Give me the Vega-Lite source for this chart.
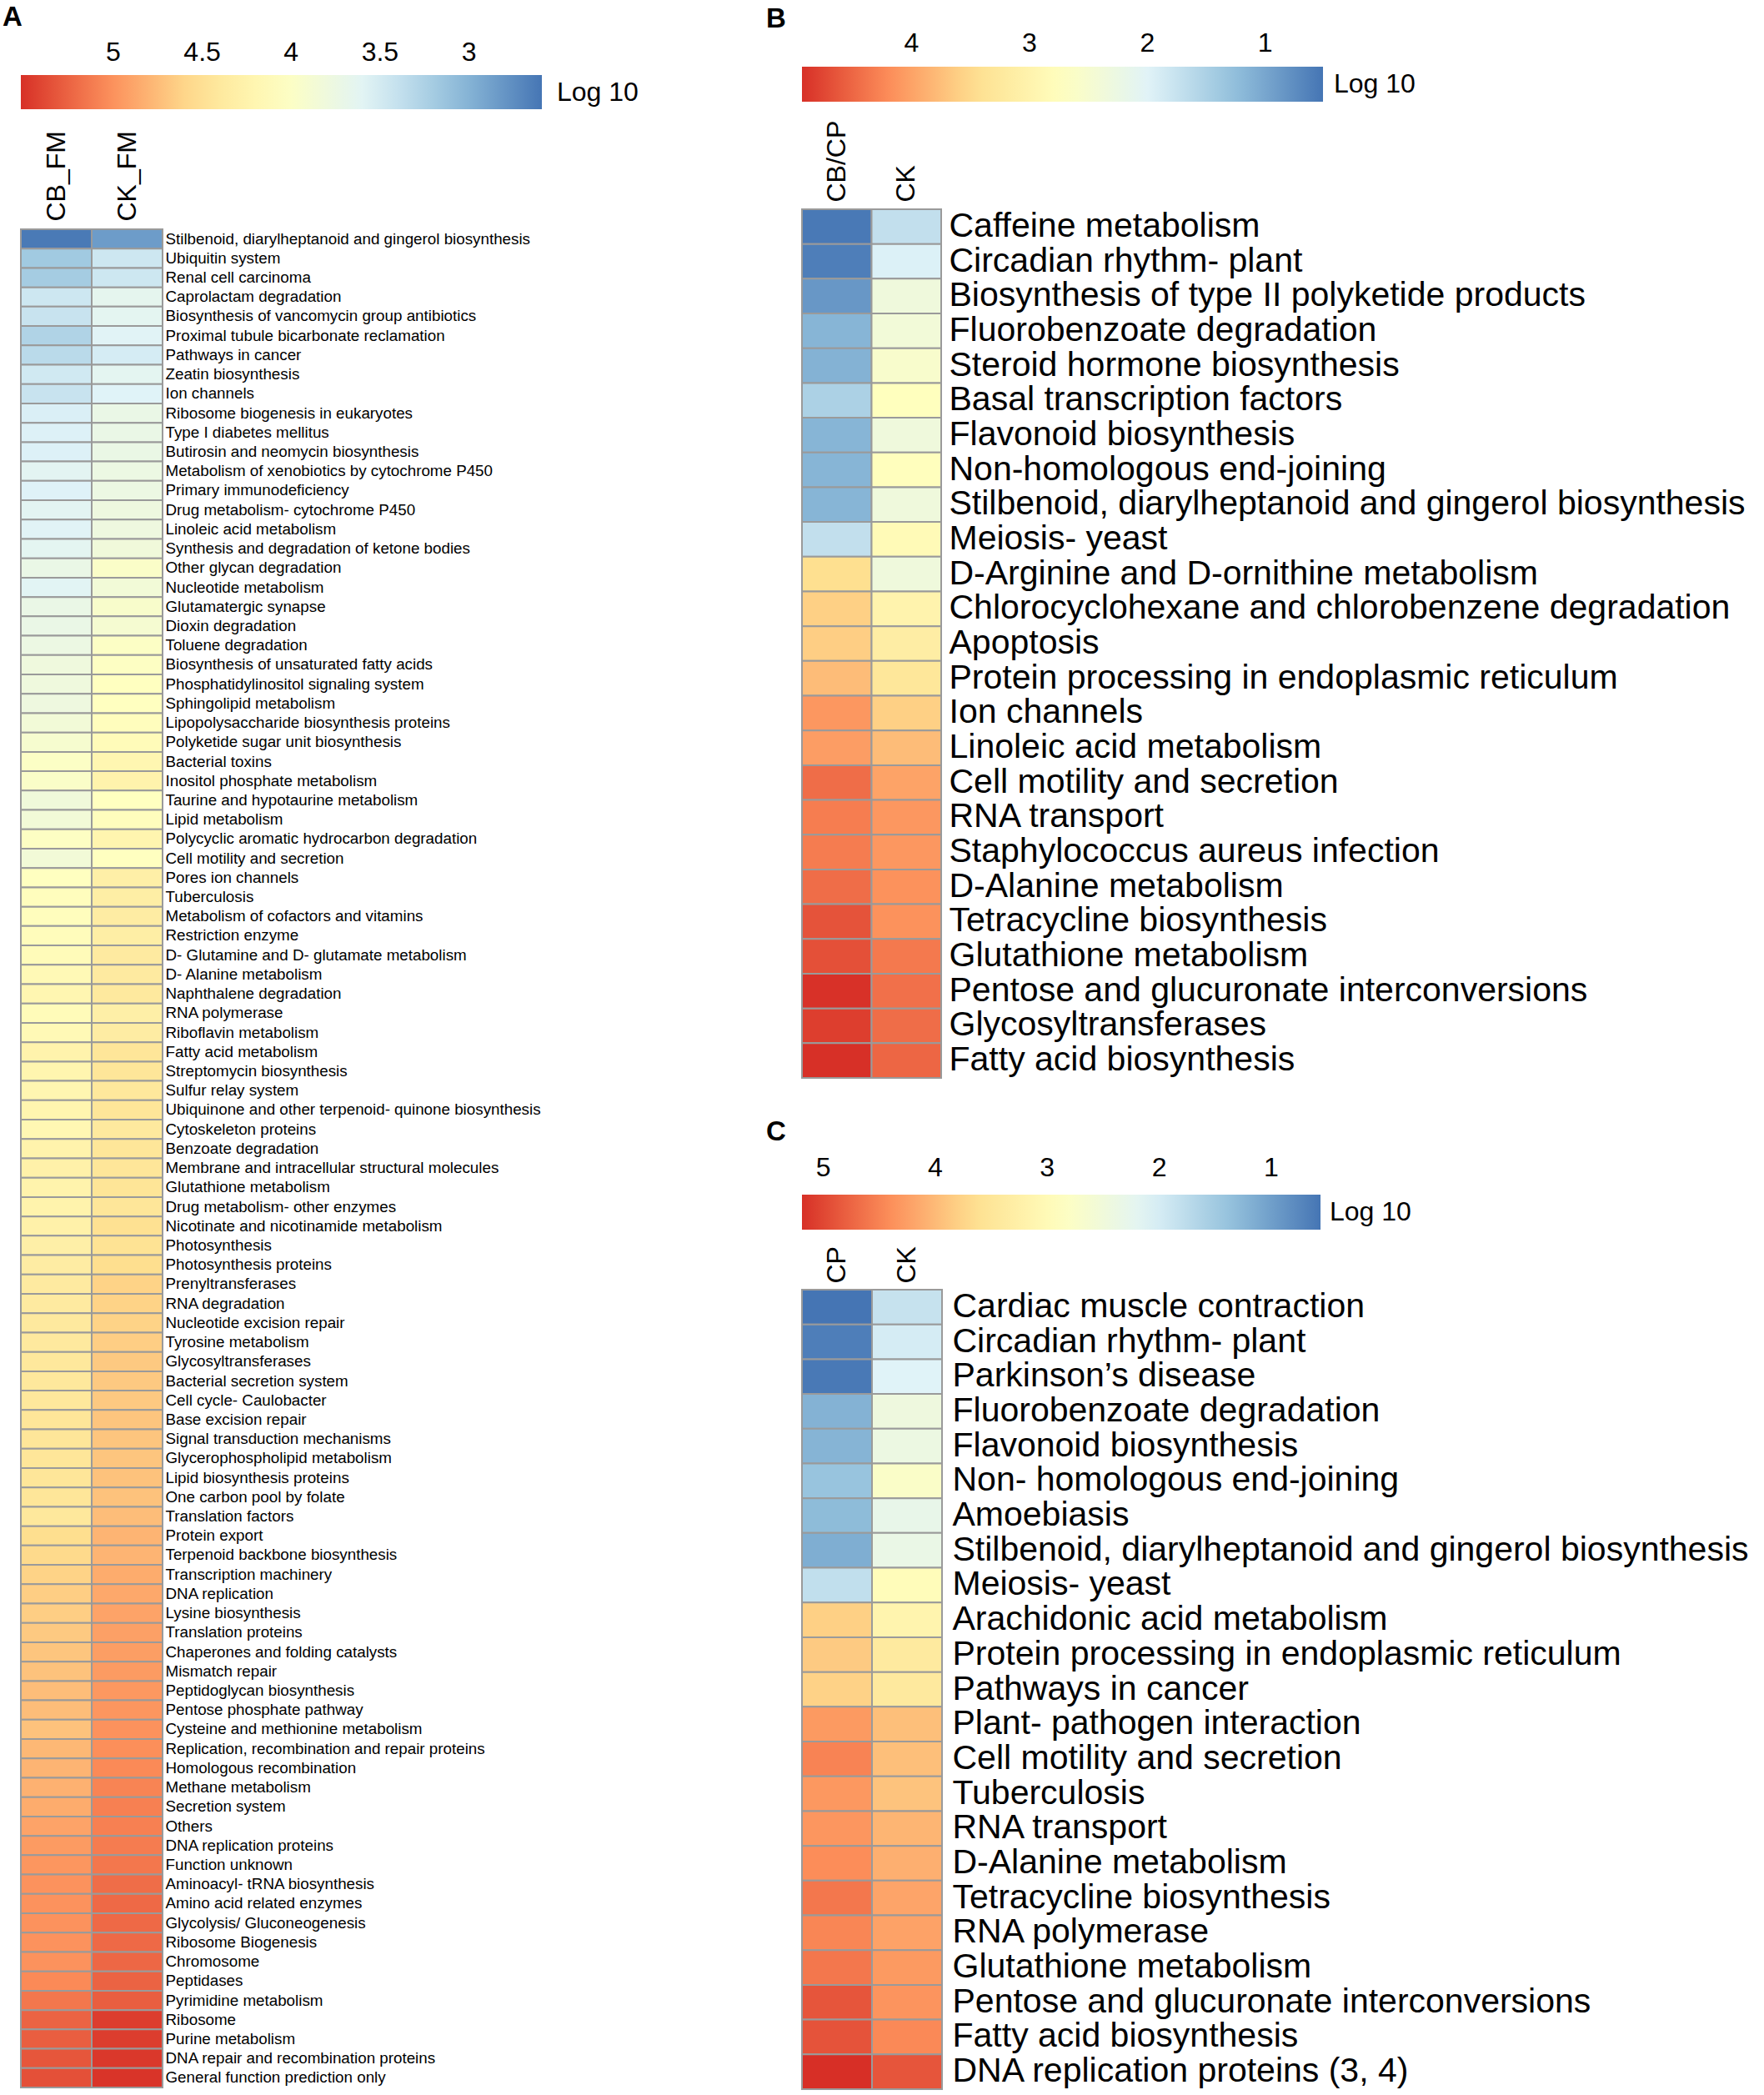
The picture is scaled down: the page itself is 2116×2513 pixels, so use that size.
{
  "$schema": "https://vega.github.io/schema/vega-lite/v6.json",
  "background": "white",
  "padding": {"left": 3, "top": 5, "right": 0, "bottom": 0},
  "config": {
    "font": "Liberation Sans",
    "view": {"stroke": null},
    "axis": {"labelColor": "#000000", "ticks": false, "domain": false, "grid": false, "title": null, "labelFont": "Liberation Sans"},
    "legend": {"labelColor": "#000000", "titleColor": "#000000", "labelFont": "Liberation Sans", "titleFont": "Liberation Sans"},
    "title": {"font": "Liberation Sans", "color": "#000000"}
  },
  "datasets": {
    "a": [
      {"pathway": "Stilbenoid, diarylheptanoid and gingerol biosynthesis", "sample": "CB_FM", "log10": 2.62}, {"pathway": "Stilbenoid, diarylheptanoid and gingerol biosynthesis", "sample": "CK_FM", "log10": 2.85},
      {"pathway": "Ubiquitin system", "sample": "CB_FM", "log10": 3.18}, {"pathway": "Ubiquitin system", "sample": "CK_FM", "log10": 3.45},
      {"pathway": "Renal cell carcinoma", "sample": "CB_FM", "log10": 3.2}, {"pathway": "Renal cell carcinoma", "sample": "CK_FM", "log10": 3.45},
      {"pathway": "Caprolactam degradation", "sample": "CB_FM", "log10": 3.45}, {"pathway": "Caprolactam degradation", "sample": "CK_FM", "log10": 3.65},
      {"pathway": "Biosynthesis of vancomycin group antibiotics", "sample": "CB_FM", "log10": 3.42}, {"pathway": "Biosynthesis of vancomycin group antibiotics", "sample": "CK_FM", "log10": 3.63},
      {"pathway": "Proximal tubule bicarbonate reclamation", "sample": "CB_FM", "log10": 3.27}, {"pathway": "Proximal tubule bicarbonate reclamation", "sample": "CK_FM", "log10": 3.58},
      {"pathway": "Pathways in cancer", "sample": "CB_FM", "log10": 3.33}, {"pathway": "Pathways in cancer", "sample": "CK_FM", "log10": 3.5},
      {"pathway": "Zeatin biosynthesis", "sample": "CB_FM", "log10": 3.47}, {"pathway": "Zeatin biosynthesis", "sample": "CK_FM", "log10": 3.63},
      {"pathway": "Ion channels", "sample": "CB_FM", "log10": 3.42}, {"pathway": "Ion channels", "sample": "CK_FM", "log10": 3.57},
      {"pathway": "Ribosome biogenesis in eukaryotes", "sample": "CB_FM", "log10": 3.53}, {"pathway": "Ribosome biogenesis in eukaryotes", "sample": "CK_FM", "log10": 3.72},
      {"pathway": "Type I diabetes mellitus", "sample": "CB_FM", "log10": 3.55}, {"pathway": "Type I diabetes mellitus", "sample": "CK_FM", "log10": 3.72},
      {"pathway": "Butirosin and neomycin biosynthesis", "sample": "CB_FM", "log10": 3.55}, {"pathway": "Butirosin and neomycin biosynthesis", "sample": "CK_FM", "log10": 3.73},
      {"pathway": "Metabolism of xenobiotics by cytochrome P450", "sample": "CB_FM", "log10": 3.62}, {"pathway": "Metabolism of xenobiotics by cytochrome P450", "sample": "CK_FM", "log10": 3.75},
      {"pathway": "Primary immunodeficiency", "sample": "CB_FM", "log10": 3.56}, {"pathway": "Primary immunodeficiency", "sample": "CK_FM", "log10": 3.75},
      {"pathway": "Drug metabolism- cytochrome P450", "sample": "CB_FM", "log10": 3.62}, {"pathway": "Drug metabolism- cytochrome P450", "sample": "CK_FM", "log10": 3.78},
      {"pathway": "Linoleic acid metabolism", "sample": "CB_FM", "log10": 3.58}, {"pathway": "Linoleic acid metabolism", "sample": "CK_FM", "log10": 3.78},
      {"pathway": "Synthesis and degradation of ketone bodies", "sample": "CB_FM", "log10": 3.63}, {"pathway": "Synthesis and degradation of ketone bodies", "sample": "CK_FM", "log10": 3.82},
      {"pathway": "Other glycan degradation", "sample": "CB_FM", "log10": 3.72}, {"pathway": "Other glycan degradation", "sample": "CK_FM", "log10": 3.98},
      {"pathway": "Nucleotide metabolism", "sample": "CB_FM", "log10": 3.6}, {"pathway": "Nucleotide metabolism", "sample": "CK_FM", "log10": 3.85},
      {"pathway": "Glutamatergic synapse", "sample": "CB_FM", "log10": 3.72}, {"pathway": "Glutamatergic synapse", "sample": "CK_FM", "log10": 3.95},
      {"pathway": "Dioxin degradation", "sample": "CB_FM", "log10": 3.72}, {"pathway": "Dioxin degradation", "sample": "CK_FM", "log10": 3.9},
      {"pathway": "Toluene degradation", "sample": "CB_FM", "log10": 3.75}, {"pathway": "Toluene degradation", "sample": "CK_FM", "log10": 4.0},
      {"pathway": "Biosynthesis of unsaturated fatty acids", "sample": "CB_FM", "log10": 3.8}, {"pathway": "Biosynthesis of unsaturated fatty acids", "sample": "CK_FM", "log10": 4.02},
      {"pathway": "Phosphatidylinositol signaling system", "sample": "CB_FM", "log10": 3.8}, {"pathway": "Phosphatidylinositol signaling system", "sample": "CK_FM", "log10": 4.05},
      {"pathway": "Sphingolipid metabolism", "sample": "CB_FM", "log10": 3.78}, {"pathway": "Sphingolipid metabolism", "sample": "CK_FM", "log10": 4.05},
      {"pathway": "Lipopolysaccharide biosynthesis proteins", "sample": "CB_FM", "log10": 3.85}, {"pathway": "Lipopolysaccharide biosynthesis proteins", "sample": "CK_FM", "log10": 4.08},
      {"pathway": "Polyketide sugar unit biosynthesis", "sample": "CB_FM", "log10": 3.92}, {"pathway": "Polyketide sugar unit biosynthesis", "sample": "CK_FM", "log10": 4.12},
      {"pathway": "Bacterial toxins", "sample": "CB_FM", "log10": 4.0}, {"pathway": "Bacterial toxins", "sample": "CK_FM", "log10": 4.2},
      {"pathway": "Inositol phosphate metabolism", "sample": "CB_FM", "log10": 3.98}, {"pathway": "Inositol phosphate metabolism", "sample": "CK_FM", "log10": 4.25},
      {"pathway": "Taurine and hypotaurine metabolism", "sample": "CB_FM", "log10": 3.82}, {"pathway": "Taurine and hypotaurine metabolism", "sample": "CK_FM", "log10": 4.05},
      {"pathway": "Lipid metabolism", "sample": "CB_FM", "log10": 3.85}, {"pathway": "Lipid metabolism", "sample": "CK_FM", "log10": 4.08},
      {"pathway": "Polycyclic aromatic hydrocarbon degradation", "sample": "CB_FM", "log10": 4.02}, {"pathway": "Polycyclic aromatic hydrocarbon degradation", "sample": "CK_FM", "log10": 4.22},
      {"pathway": "Cell motility and secretion", "sample": "CB_FM", "log10": 3.85}, {"pathway": "Cell motility and secretion", "sample": "CK_FM", "log10": 4.05},
      {"pathway": "Pores ion channels", "sample": "CB_FM", "log10": 4.05}, {"pathway": "Pores ion channels", "sample": "CK_FM", "log10": 4.3},
      {"pathway": "Tuberculosis", "sample": "CB_FM", "log10": 4.08}, {"pathway": "Tuberculosis", "sample": "CK_FM", "log10": 4.32},
      {"pathway": "Metabolism of cofactors and vitamins", "sample": "CB_FM", "log10": 4.08}, {"pathway": "Metabolism of cofactors and vitamins", "sample": "CK_FM", "log10": 4.35},
      {"pathway": "Restriction enzyme", "sample": "CB_FM", "log10": 4.1}, {"pathway": "Restriction enzyme", "sample": "CK_FM", "log10": 4.33},
      {"pathway": "D- Glutamine and D- glutamate metabolism", "sample": "CB_FM", "log10": 4.12}, {"pathway": "D- Glutamine and D- glutamate metabolism", "sample": "CK_FM", "log10": 4.38},
      {"pathway": "D- Alanine metabolism", "sample": "CB_FM", "log10": 4.15}, {"pathway": "D- Alanine metabolism", "sample": "CK_FM", "log10": 4.38},
      {"pathway": "Naphthalene degradation", "sample": "CB_FM", "log10": 4.2}, {"pathway": "Naphthalene degradation", "sample": "CK_FM", "log10": 4.4},
      {"pathway": "RNA polymerase", "sample": "CB_FM", "log10": 4.12}, {"pathway": "RNA polymerase", "sample": "CK_FM", "log10": 4.3},
      {"pathway": "Riboflavin metabolism", "sample": "CB_FM", "log10": 4.15}, {"pathway": "Riboflavin metabolism", "sample": "CK_FM", "log10": 4.35},
      {"pathway": "Fatty acid metabolism", "sample": "CB_FM", "log10": 4.25}, {"pathway": "Fatty acid metabolism", "sample": "CK_FM", "log10": 4.45},
      {"pathway": "Streptomycin biosynthesis", "sample": "CB_FM", "log10": 4.22}, {"pathway": "Streptomycin biosynthesis", "sample": "CK_FM", "log10": 4.45},
      {"pathway": "Sulfur relay system", "sample": "CB_FM", "log10": 4.2}, {"pathway": "Sulfur relay system", "sample": "CK_FM", "log10": 4.42},
      {"pathway": "Ubiquinone and other terpenoid- quinone biosynthesis", "sample": "CB_FM", "log10": 4.22}, {"pathway": "Ubiquinone and other terpenoid- quinone biosynthesis", "sample": "CK_FM", "log10": 4.45},
      {"pathway": "Cytoskeleton proteins", "sample": "CB_FM", "log10": 4.18}, {"pathway": "Cytoskeleton proteins", "sample": "CK_FM", "log10": 4.4},
      {"pathway": "Benzoate degradation", "sample": "CB_FM", "log10": 4.25}, {"pathway": "Benzoate degradation", "sample": "CK_FM", "log10": 4.45},
      {"pathway": "Membrane and intracellular structural molecules", "sample": "CB_FM", "log10": 4.28}, {"pathway": "Membrane and intracellular structural molecules", "sample": "CK_FM", "log10": 4.45},
      {"pathway": "Glutathione metabolism", "sample": "CB_FM", "log10": 4.25}, {"pathway": "Glutathione metabolism", "sample": "CK_FM", "log10": 4.47},
      {"pathway": "Drug metabolism- other enzymes", "sample": "CB_FM", "log10": 4.25}, {"pathway": "Drug metabolism- other enzymes", "sample": "CK_FM", "log10": 4.45},
      {"pathway": "Nicotinate and nicotinamide metabolism", "sample": "CB_FM", "log10": 4.28}, {"pathway": "Nicotinate and nicotinamide metabolism", "sample": "CK_FM", "log10": 4.52},
      {"pathway": "Photosynthesis", "sample": "CB_FM", "log10": 4.3}, {"pathway": "Photosynthesis", "sample": "CK_FM", "log10": 4.5},
      {"pathway": "Photosynthesis proteins", "sample": "CB_FM", "log10": 4.35}, {"pathway": "Photosynthesis proteins", "sample": "CK_FM", "log10": 4.55},
      {"pathway": "Prenyltransferases", "sample": "CB_FM", "log10": 4.38}, {"pathway": "Prenyltransferases", "sample": "CK_FM", "log10": 4.62},
      {"pathway": "RNA degradation", "sample": "CB_FM", "log10": 4.38}, {"pathway": "RNA degradation", "sample": "CK_FM", "log10": 4.62},
      {"pathway": "Nucleotide excision repair", "sample": "CB_FM", "log10": 4.4}, {"pathway": "Nucleotide excision repair", "sample": "CK_FM", "log10": 4.62},
      {"pathway": "Tyrosine metabolism", "sample": "CB_FM", "log10": 4.4}, {"pathway": "Tyrosine metabolism", "sample": "CK_FM", "log10": 4.65},
      {"pathway": "Glycosyltransferases", "sample": "CB_FM", "log10": 4.42}, {"pathway": "Glycosyltransferases", "sample": "CK_FM", "log10": 4.68},
      {"pathway": "Bacterial secretion system", "sample": "CB_FM", "log10": 4.42}, {"pathway": "Bacterial secretion system", "sample": "CK_FM", "log10": 4.68},
      {"pathway": "Cell cycle- Caulobacter", "sample": "CB_FM", "log10": 4.42}, {"pathway": "Cell cycle- Caulobacter", "sample": "CK_FM", "log10": 4.68},
      {"pathway": "Base excision repair", "sample": "CB_FM", "log10": 4.45}, {"pathway": "Base excision repair", "sample": "CK_FM", "log10": 4.7},
      {"pathway": "Signal transduction mechanisms", "sample": "CB_FM", "log10": 4.45}, {"pathway": "Signal transduction mechanisms", "sample": "CK_FM", "log10": 4.7},
      {"pathway": "Glycerophospholipid metabolism", "sample": "CB_FM", "log10": 4.45}, {"pathway": "Glycerophospholipid metabolism", "sample": "CK_FM", "log10": 4.7},
      {"pathway": "Lipid biosynthesis proteins", "sample": "CB_FM", "log10": 4.45}, {"pathway": "Lipid biosynthesis proteins", "sample": "CK_FM", "log10": 4.72},
      {"pathway": "One carbon pool by folate", "sample": "CB_FM", "log10": 4.45}, {"pathway": "One carbon pool by folate", "sample": "CK_FM", "log10": 4.72},
      {"pathway": "Translation factors", "sample": "CB_FM", "log10": 4.42}, {"pathway": "Translation factors", "sample": "CK_FM", "log10": 4.75},
      {"pathway": "Protein export", "sample": "CB_FM", "log10": 4.55}, {"pathway": "Protein export", "sample": "CK_FM", "log10": 4.8},
      {"pathway": "Terpenoid backbone biosynthesis", "sample": "CB_FM", "log10": 4.58}, {"pathway": "Terpenoid backbone biosynthesis", "sample": "CK_FM", "log10": 4.8},
      {"pathway": "Transcription machinery", "sample": "CB_FM", "log10": 4.62}, {"pathway": "Transcription machinery", "sample": "CK_FM", "log10": 4.85},
      {"pathway": "DNA replication", "sample": "CB_FM", "log10": 4.65}, {"pathway": "DNA replication", "sample": "CK_FM", "log10": 4.87},
      {"pathway": "Lysine biosynthesis", "sample": "CB_FM", "log10": 4.65}, {"pathway": "Lysine biosynthesis", "sample": "CK_FM", "log10": 4.9},
      {"pathway": "Translation proteins", "sample": "CB_FM", "log10": 4.68}, {"pathway": "Translation proteins", "sample": "CK_FM", "log10": 4.92},
      {"pathway": "Chaperones and folding catalysts", "sample": "CB_FM", "log10": 4.7}, {"pathway": "Chaperones and folding catalysts", "sample": "CK_FM", "log10": 4.93},
      {"pathway": "Mismatch repair", "sample": "CB_FM", "log10": 4.72}, {"pathway": "Mismatch repair", "sample": "CK_FM", "log10": 4.95},
      {"pathway": "Peptidoglycan biosynthesis", "sample": "CB_FM", "log10": 4.75}, {"pathway": "Peptidoglycan biosynthesis", "sample": "CK_FM", "log10": 4.97},
      {"pathway": "Pentose phosphate pathway", "sample": "CB_FM", "log10": 4.75}, {"pathway": "Pentose phosphate pathway", "sample": "CK_FM", "log10": 4.98},
      {"pathway": "Cysteine and methionine metabolism", "sample": "CB_FM", "log10": 4.72}, {"pathway": "Cysteine and methionine metabolism", "sample": "CK_FM", "log10": 5.0},
      {"pathway": "Replication, recombination and repair proteins", "sample": "CB_FM", "log10": 4.78}, {"pathway": "Replication, recombination and repair proteins", "sample": "CK_FM", "log10": 5.02},
      {"pathway": "Homologous recombination", "sample": "CB_FM", "log10": 4.8}, {"pathway": "Homologous recombination", "sample": "CK_FM", "log10": 5.05},
      {"pathway": "Methane metabolism", "sample": "CB_FM", "log10": 4.82}, {"pathway": "Methane metabolism", "sample": "CK_FM", "log10": 5.08},
      {"pathway": "Secretion system", "sample": "CB_FM", "log10": 4.85}, {"pathway": "Secretion system", "sample": "CK_FM", "log10": 5.1},
      {"pathway": "Others", "sample": "CB_FM", "log10": 4.9}, {"pathway": "Others", "sample": "CK_FM", "log10": 5.1},
      {"pathway": "DNA replication proteins", "sample": "CB_FM", "log10": 4.95}, {"pathway": "DNA replication proteins", "sample": "CK_FM", "log10": 5.12},
      {"pathway": "Function unknown", "sample": "CB_FM", "log10": 4.98}, {"pathway": "Function unknown", "sample": "CK_FM", "log10": 5.15},
      {"pathway": "Aminoacyl- tRNA biosynthesis", "sample": "CB_FM", "log10": 5.0}, {"pathway": "Aminoacyl- tRNA biosynthesis", "sample": "CK_FM", "log10": 5.2},
      {"pathway": "Amino acid related enzymes", "sample": "CB_FM", "log10": 5.0}, {"pathway": "Amino acid related enzymes", "sample": "CK_FM", "log10": 5.22},
      {"pathway": "Glycolysis/ Gluconeogenesis", "sample": "CB_FM", "log10": 5.0}, {"pathway": "Glycolysis/ Gluconeogenesis", "sample": "CK_FM", "log10": 5.22},
      {"pathway": "Ribosome Biogenesis", "sample": "CB_FM", "log10": 5.0}, {"pathway": "Ribosome Biogenesis", "sample": "CK_FM", "log10": 5.22},
      {"pathway": "Chromosome", "sample": "CB_FM", "log10": 5.0}, {"pathway": "Chromosome", "sample": "CK_FM", "log10": 5.23},
      {"pathway": "Peptidases", "sample": "CB_FM", "log10": 5.05}, {"pathway": "Peptidases", "sample": "CK_FM", "log10": 5.25},
      {"pathway": "Pyrimidine metabolism", "sample": "CB_FM", "log10": 5.15}, {"pathway": "Pyrimidine metabolism", "sample": "CK_FM", "log10": 5.28},
      {"pathway": "Ribosome", "sample": "CB_FM", "log10": 5.25}, {"pathway": "Ribosome", "sample": "CK_FM", "log10": 5.45},
      {"pathway": "Purine metabolism", "sample": "CB_FM", "log10": 5.28}, {"pathway": "Purine metabolism", "sample": "CK_FM", "log10": 5.45},
      {"pathway": "DNA repair and recombination proteins", "sample": "CB_FM", "log10": 5.32}, {"pathway": "DNA repair and recombination proteins", "sample": "CK_FM", "log10": 5.48},
      {"pathway": "General function prediction only", "sample": "CB_FM", "log10": 5.35}, {"pathway": "General function prediction only", "sample": "CK_FM", "log10": 5.5}
    ],
    "b": [
      {"pathway": "Caffeine metabolism", "sample": "CB/CP", "log10": 0.55}, {"pathway": "Caffeine metabolism", "sample": "CK", "log10": 1.7},
      {"pathway": "Circadian rhythm- plant", "sample": "CB/CP", "log10": 0.6}, {"pathway": "Circadian rhythm- plant", "sample": "CK", "log10": 1.95},
      {"pathway": "Biosynthesis of type II polyketide products", "sample": "CB/CP", "log10": 0.85}, {"pathway": "Biosynthesis of type II polyketide products", "sample": "CK", "log10": 2.35},
      {"pathway": "Fluorobenzoate degradation", "sample": "CB/CP", "log10": 1.15}, {"pathway": "Fluorobenzoate degradation", "sample": "CK", "log10": 2.4},
      {"pathway": "Steroid hormone biosynthesis", "sample": "CB/CP", "log10": 1.12}, {"pathway": "Steroid hormone biosynthesis", "sample": "CK", "log10": 2.55},
      {"pathway": "Basal transcription factors", "sample": "CB/CP", "log10": 1.5}, {"pathway": "Basal transcription factors", "sample": "CK", "log10": 2.73},
      {"pathway": "Flavonoid biosynthesis", "sample": "CB/CP", "log10": 1.15}, {"pathway": "Flavonoid biosynthesis", "sample": "CK", "log10": 2.35},
      {"pathway": "Non-homologous end-joining", "sample": "CB/CP", "log10": 1.15}, {"pathway": "Non-homologous end-joining", "sample": "CK", "log10": 2.75},
      {"pathway": "Stilbenoid, diarylheptanoid and gingerol biosynthesis", "sample": "CB/CP", "log10": 1.15}, {"pathway": "Stilbenoid, diarylheptanoid and gingerol biosynthesis", "sample": "CK", "log10": 2.35},
      {"pathway": "Meiosis- yeast", "sample": "CB/CP", "log10": 1.7}, {"pathway": "Meiosis- yeast", "sample": "CK", "log10": 2.85},
      {"pathway": "D-Arginine and D-ornithine metabolism", "sample": "CB/CP", "log10": 3.45}, {"pathway": "D-Arginine and D-ornithine metabolism", "sample": "CK", "log10": 2.35},
      {"pathway": "Chlorocyclohexane and chlorobenzene degradation", "sample": "CB/CP", "log10": 3.6}, {"pathway": "Chlorocyclohexane and chlorobenzene degradation", "sample": "CK", "log10": 3.0},
      {"pathway": "Apoptosis", "sample": "CB/CP", "log10": 3.62}, {"pathway": "Apoptosis", "sample": "CK", "log10": 3.15},
      {"pathway": "Protein processing in endoplasmic reticulum", "sample": "CB/CP", "log10": 3.78}, {"pathway": "Protein processing in endoplasmic reticulum", "sample": "CK", "log10": 3.3},
      {"pathway": "Ion channels", "sample": "CB/CP", "log10": 4.1}, {"pathway": "Ion channels", "sample": "CK", "log10": 3.6},
      {"pathway": "Linoleic acid metabolism", "sample": "CB/CP", "log10": 4.05}, {"pathway": "Linoleic acid metabolism", "sample": "CK", "log10": 3.78},
      {"pathway": "Cell motility and secretion", "sample": "CB/CP", "log10": 4.45}, {"pathway": "Cell motility and secretion", "sample": "CK", "log10": 4.0},
      {"pathway": "RNA transport", "sample": "CB/CP", "log10": 4.32}, {"pathway": "RNA transport", "sample": "CK", "log10": 4.1},
      {"pathway": "Staphylococcus aureus infection", "sample": "CB/CP", "log10": 4.33}, {"pathway": "Staphylococcus aureus infection", "sample": "CK", "log10": 4.1},
      {"pathway": "D-Alanine metabolism", "sample": "CB/CP", "log10": 4.45}, {"pathway": "D-Alanine metabolism", "sample": "CK", "log10": 4.15},
      {"pathway": "Tetracycline biosynthesis", "sample": "CB/CP", "log10": 4.65}, {"pathway": "Tetracycline biosynthesis", "sample": "CK", "log10": 4.15},
      {"pathway": "Glutathione metabolism", "sample": "CB/CP", "log10": 4.68}, {"pathway": "Glutathione metabolism", "sample": "CK", "log10": 4.35},
      {"pathway": "Pentose and glucuronate interconversions", "sample": "CB/CP", "log10": 4.92}, {"pathway": "Pentose and glucuronate interconversions", "sample": "CK", "log10": 4.42},
      {"pathway": "Glycosyltransferases", "sample": "CB/CP", "log10": 4.82}, {"pathway": "Glycosyltransferases", "sample": "CK", "log10": 4.45},
      {"pathway": "Fatty acid biosynthesis", "sample": "CB/CP", "log10": 4.93}, {"pathway": "Fatty acid biosynthesis", "sample": "CK", "log10": 4.5}
    ],
    "c": [
      {"pathway": "Cardiac muscle contraction", "sample": "CP", "log10": 0.56}, {"pathway": "Cardiac muscle contraction", "sample": "CK", "log10": 1.85},
      {"pathway": "Circadian rhythm- plant", "sample": "CP", "log10": 0.65}, {"pathway": "Circadian rhythm- plant", "sample": "CK", "log10": 2.0},
      {"pathway": "Parkinson’s disease", "sample": "CP", "log10": 0.6}, {"pathway": "Parkinson’s disease", "sample": "CK", "log10": 2.1},
      {"pathway": "Fluorobenzoate degradation", "sample": "CP", "log10": 1.2}, {"pathway": "Fluorobenzoate degradation", "sample": "CK", "log10": 2.45},
      {"pathway": "Flavonoid biosynthesis", "sample": "CP", "log10": 1.22}, {"pathway": "Flavonoid biosynthesis", "sample": "CK", "log10": 2.4},
      {"pathway": "Non- homologous end-joining", "sample": "CP", "log10": 1.4}, {"pathway": "Non- homologous end-joining", "sample": "CK", "log10": 2.75},
      {"pathway": "Amoebiasis", "sample": "CP", "log10": 1.3}, {"pathway": "Amoebiasis", "sample": "CK", "log10": 2.3},
      {"pathway": "Stilbenoid, diarylheptanoid and gingerol biosynthesis", "sample": "CP", "log10": 1.15}, {"pathway": "Stilbenoid, diarylheptanoid and gingerol biosynthesis", "sample": "CK", "log10": 2.35},
      {"pathway": "Meiosis- yeast", "sample": "CP", "log10": 1.8}, {"pathway": "Meiosis- yeast", "sample": "CK", "log10": 2.95},
      {"pathway": "Arachidonic acid metabolism", "sample": "CP", "log10": 3.8}, {"pathway": "Arachidonic acid metabolism", "sample": "CK", "log10": 3.15},
      {"pathway": "Protein processing in endoplasmic reticulum", "sample": "CP", "log10": 3.85}, {"pathway": "Protein processing in endoplasmic reticulum", "sample": "CK", "log10": 3.4},
      {"pathway": "Pathways in cancer", "sample": "CP", "log10": 3.78}, {"pathway": "Pathways in cancer", "sample": "CK", "log10": 3.42},
      {"pathway": "Plant- pathogen interaction", "sample": "CP", "log10": 4.3}, {"pathway": "Plant- pathogen interaction", "sample": "CK", "log10": 3.95},
      {"pathway": "Cell motility and secretion", "sample": "CP", "log10": 4.5}, {"pathway": "Cell motility and secretion", "sample": "CK", "log10": 3.95},
      {"pathway": "Tuberculosis", "sample": "CP", "log10": 4.32}, {"pathway": "Tuberculosis", "sample": "CK", "log10": 3.92},
      {"pathway": "RNA transport", "sample": "CP", "log10": 4.33}, {"pathway": "RNA transport", "sample": "CK", "log10": 4.05},
      {"pathway": "D-Alanine metabolism", "sample": "CP", "log10": 4.42}, {"pathway": "D-Alanine metabolism", "sample": "CK", "log10": 4.1},
      {"pathway": "Tetracycline biosynthesis", "sample": "CP", "log10": 4.6}, {"pathway": "Tetracycline biosynthesis", "sample": "CK", "log10": 4.2},
      {"pathway": "RNA polymerase", "sample": "CP", "log10": 4.48}, {"pathway": "RNA polymerase", "sample": "CK", "log10": 4.22},
      {"pathway": "Glutathione metabolism", "sample": "CP", "log10": 4.6}, {"pathway": "Glutathione metabolism", "sample": "CK", "log10": 4.3},
      {"pathway": "Pentose and glucuronate interconversions", "sample": "CP", "log10": 4.88}, {"pathway": "Pentose and glucuronate interconversions", "sample": "CK", "log10": 4.35},
      {"pathway": "Fatty acid biosynthesis", "sample": "CP", "log10": 4.9}, {"pathway": "Fatty acid biosynthesis", "sample": "CK", "log10": 4.45},
      {"pathway": "DNA replication proteins (3, 4)", "sample": "CP", "log10": 5.2}, {"pathway": "DNA replication proteins (3, 4)", "sample": "CK", "log10": 4.88}
    ]
  },
  "hconcat": [
    {
      "data": {"name": "a"},
      "width": 170,
      "height": 2253,
      "title": {"text": "A", "anchor": "start", "frame": "group", "fontSize": 33, "fontWeight": "bold", "dx": -22, "offset": 52},
      "mark": {"type": "rect", "stroke": "#9a9a9a", "strokeWidth": 2},
      "encoding": {
        "x": {"field": "sample", "type": "nominal", "sort": ["CB_FM", "CK_FM"], "scale": {"paddingInner": 0, "paddingOuter": 0},
              "axis": {"orient": "top", "labelAngle": -90, "labelFontSize": 32, "labelPadding": 10, "offset": -24}},
        "y": {"field": "pathway", "type": "nominal", "sort": null, "scale": {"paddingInner": 0, "paddingOuter": 0.5168, "align": 1, "round": false},
              "axis": {"orient": "right", "labelFontSize": 18.8, "labelPadding": 3, "labelLimit": 0}},
        "color": {"field": "log10", "type": "quantitative",
                  "scale": {"domain": [5.52, 5.032, 4.543, 4.055, 3.567, 3.078, 2.59], "range": ["#D73027", "#FC8D59", "#FEE090", "#FFFFBF", "#E0F3F8", "#91BFDB", "#4575B4"], "interpolate": "rgb"},
                  "legend": {"orient": "top", "direction": "horizontal", "title": "Log 10", "titleOrient": "right", "titleFontSize": 32, "titleFontWeight": "normal", "titlePadding": 18, "titleAnchor": "middle", "titleBaseline": "middle",
                             "gradientLength": 625, "gradientThickness": 41, "gradientStrokeWidth": 0, "values": [5, 4.5, 4, 3.5, 3], "format": "~g", "labelFontSize": 32, "labelOffset": -83, "offset": 25, "labelOverlap": false}}
      }
    },
    {
      "vconcat": [
        {
          "data": {"name": "b"},
          "width": 167,
          "height": 1042,
          "title": {"text": "B", "anchor": "start", "frame": "group", "fontSize": 33, "fontWeight": "bold", "dx": -43, "offset": 40},
          "mark": {"type": "rect", "stroke": "#9a9a9a", "strokeWidth": 2},
          "encoding": {
            "x": {"field": "sample", "type": "nominal", "sort": ["CB/CP", "CK"], "scale": {"paddingInner": 0, "paddingOuter": 0},
                  "axis": {"orient": "top", "labelAngle": -90, "labelFontSize": 32, "labelPadding": 9}},
            "y": {"field": "pathway", "type": "nominal", "sort": null, "scale": {"paddingInner": 0, "paddingOuter": 0, "round": false},
                  "axis": {"orient": "right", "labelFontSize": 41, "labelPadding": 9, "labelLimit": 0}},
            "color": {"field": "log10", "type": "quantitative",
                      "scale": {"domain": [4.93, 4.193, 3.457, 2.72, 1.983, 1.247, 0.51], "range": ["#D73027", "#FC8D59", "#FEE090", "#FFFFBF", "#E0F3F8", "#91BFDB", "#4575B4"], "interpolate": "rgb"},
                      "legend": {"orient": "top", "direction": "horizontal", "title": "Log 10", "titleOrient": "right", "titleFontSize": 32, "titleFontWeight": "normal", "titlePadding": 13, "titleAnchor": "middle", "titleBaseline": "middle",
                                 "gradientLength": 625, "gradientThickness": 42, "gradientStrokeWidth": 0, "values": [4, 3, 2, 1], "format": "~g", "labelFontSize": 32, "labelOffset": -85, "offset": 22, "labelOverlap": false}}
          }
        },
        {
          "data": {"name": "c"},
          "width": 168,
          "height": 959,
          "title": {"text": "C", "anchor": "start", "frame": "group", "fontSize": 33, "fontWeight": "bold", "dx": -43, "offset": 58},
          "mark": {"type": "rect", "stroke": "#9a9a9a", "strokeWidth": 2},
          "encoding": {
            "x": {"field": "sample", "type": "nominal", "sort": ["CP", "CK"], "scale": {"paddingInner": 0, "paddingOuter": 0},
                  "axis": {"orient": "top", "labelAngle": -90, "labelFontSize": 32, "labelPadding": 8}},
            "y": {"field": "pathway", "type": "nominal", "sort": null, "scale": {"paddingInner": 0, "paddingOuter": 0, "round": false},
                  "axis": {"orient": "right", "labelFontSize": 41, "labelPadding": 12, "labelLimit": 0}},
            "color": {"field": "log10", "type": "quantitative",
                      "scale": {"domain": [5.19, 4.418, 3.647, 2.875, 2.103, 1.332, 0.56], "range": ["#D73027", "#FC8D59", "#FEE090", "#FFFFBF", "#E0F3F8", "#91BFDB", "#4575B4"], "interpolate": "rgb"},
                      "legend": {"orient": "top", "direction": "horizontal", "title": "Log 10", "titleOrient": "right", "titleFontSize": 32, "titleFontWeight": "normal", "titlePadding": 11, "titleAnchor": "middle", "titleBaseline": "middle",
                                 "gradientLength": 622, "gradientThickness": 42, "gradientStrokeWidth": 0, "values": [5, 4, 3, 2, 1], "format": "~g", "labelFontSize": 32, "labelOffset": -89, "offset": 19, "labelOverlap": false}}
          }
        }
      ],
      "spacing": 48,
      "resolve": {"scale": {"color": "independent"}, "legend": {"color": "independent"}}
    }
  ],
  "spacing": 153,
  "resolve": {"scale": {"color": "independent"}, "legend": {"color": "independent"}}
}
